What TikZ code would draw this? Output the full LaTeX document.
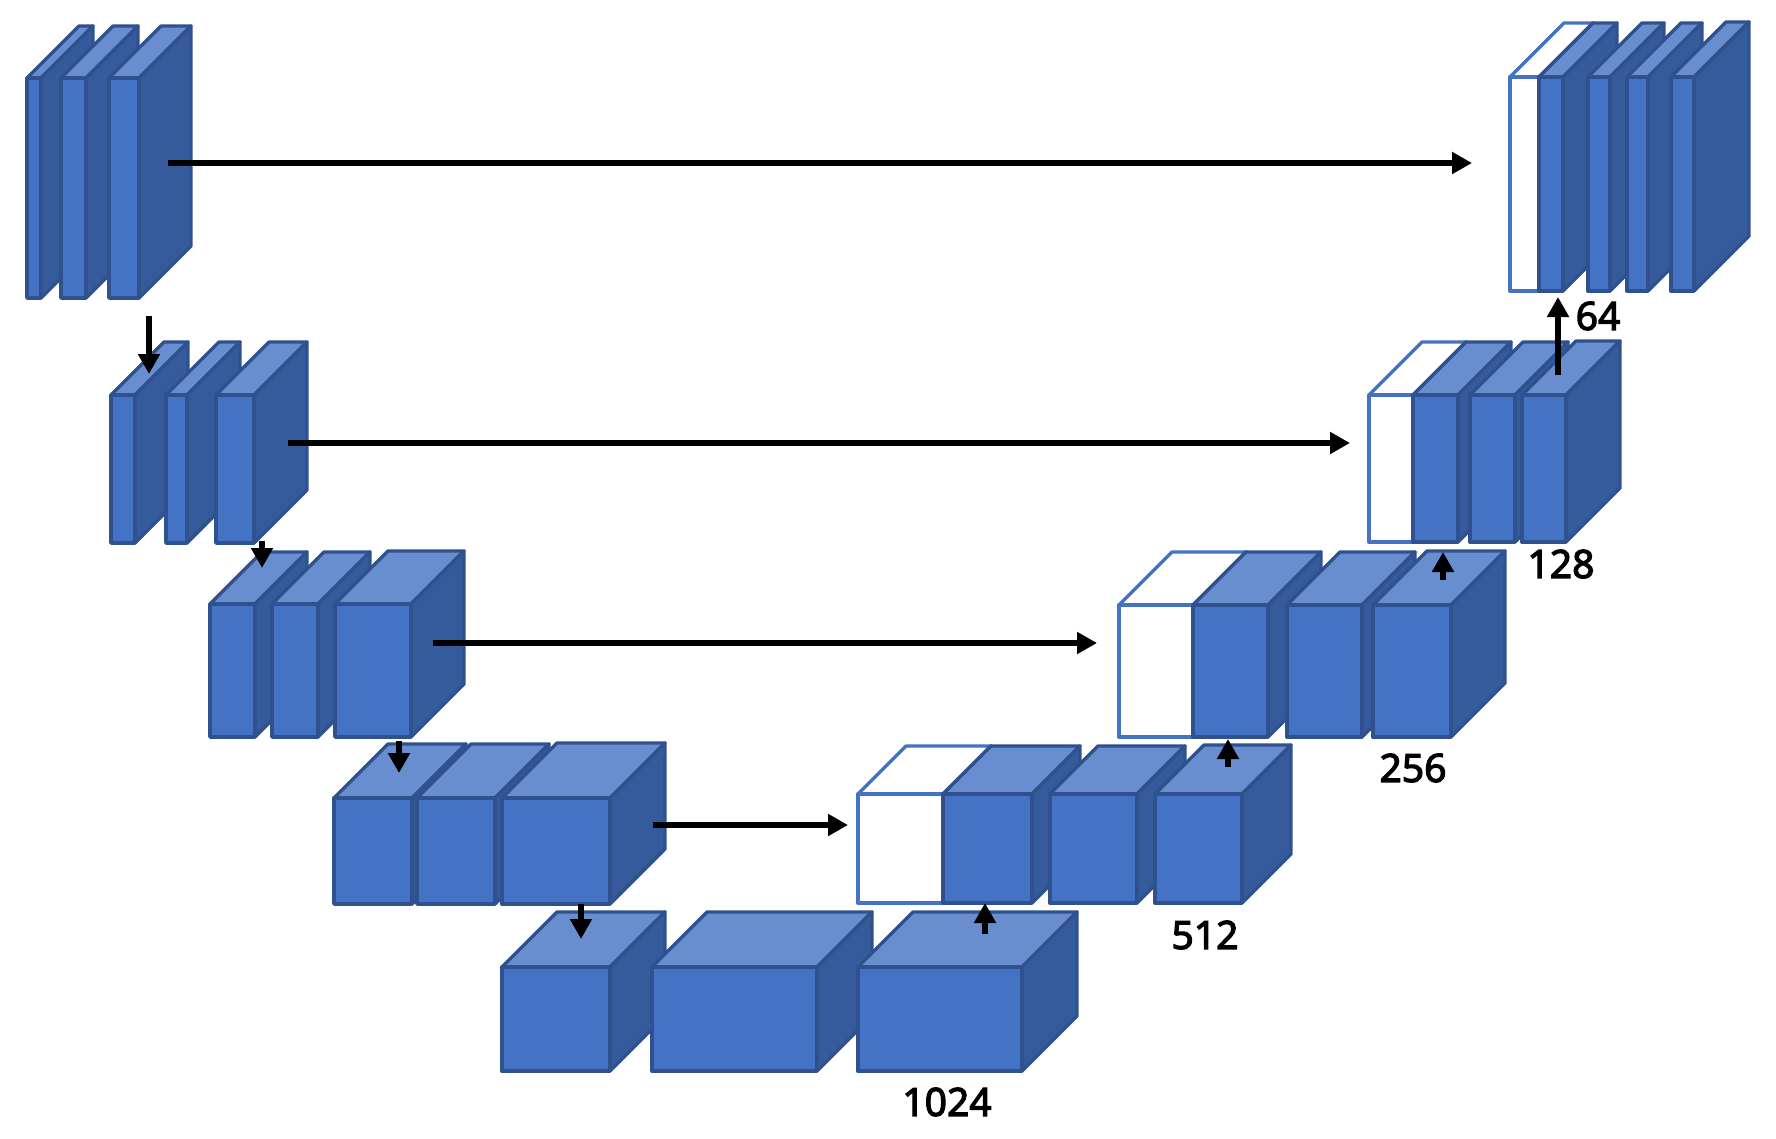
\documentclass[tikz,border=0pt]{standalone}
\usepackage{fontspec}
\setmainfont{Noto Sans}
\newfontfamily\lblfont{Noto Sans}[FakeBold=3]
\usetikzlibrary{arrows.meta}
\definecolor{frontc}{HTML}{4472C4}
\definecolor{topc}{HTML}{698ED0}
\definecolor{sidec}{HTML}{365B9D}
\definecolor{edgec}{HTML}{2F528F}
\definecolor{wedge}{HTML}{4472C4}
\tikzset{
  blk/.style={draw=edgec,line width=1.7pt,line join=round},
  wblk/.style={draw=wedge,fill=white,line width=1.7pt,line join=round},
  conn/.style={draw=black,line width=3pt,-{Triangle[length=10pt,width=10.5pt]}},
  lbl/.style={inner sep=0pt,font=\lblfont\fontsize{19.5}{23}\selectfont}
}
% blue slab: x0, x1, y0 (top of front), y1 (bottom), depth
\newcommand\bslab[5]{%
  \filldraw[blk,fill=topc] (#1,#3) -- ++(#5,-#5) -- ({#2+#5},{#3-#5}) -- (#2,#3) -- cycle;
  \filldraw[blk,fill=sidec] (#2,#3) -- ++(#5,-#5) -- ({#2+#5},{#4-#5}) -- (#2,#4) -- cycle;
  \filldraw[blk,fill=frontc] (#1,#3) rectangle (#2,#4);
}
% white (concatenated) slab
\newcommand\wslab[5]{%
  \filldraw[wblk] (#1,#3) -- ++(#5,-#5) -- ({#2+#5},{#3-#5}) -- (#2,#3) -- cycle;
  \filldraw[wblk] (#2,#3) -- ++(#5,-#5) -- ({#2+#5},{#4-#5}) -- (#2,#4) -- cycle;
  \filldraw[wblk] (#1,#3) rectangle (#2,#4);
}
\begin{document}
\begin{tikzpicture}[x=0.5pt,y=-0.5pt]
\useasboundingbox (0,0) rectangle (1776,1139);
% ---- encoder
% row 1 (64)
\bslab{27}{41}{78}{298}{52}
\bslab{61}{86}{78}{298}{52}
\bslab{109}{139}{78}{298}{52}
% row 2 (128)
\bslab{111}{135}{395}{543}{53}
\bslab{166}{187}{395}{543}{53}
\bslab{216}{254}{395}{543}{53}
% row 3 (256)
\bslab{210}{255}{604}{737}{52}
\bslab{272}{318}{604}{737}{52}
\bslab{335}{411}{604}{737}{53}
% row 4 (512)
\bslab{334}{412}{798}{904}{54}
\bslab{417}{495}{798}{904}{54}
\bslab{502}{610}{798}{904}{55}
% ---- bottleneck (1024)
\bslab{502}{610}{967}{1071}{55}
\bslab{652}{817}{967}{1071}{55}
\bslab{858}{1022}{967}{1071}{55}
% ---- decoder
% row 4 (512)
\wslab{858}{943}{794}{903}{48}
\bslab{943}{1032}{794}{903}{48}
\bslab{1050}{1137}{794}{903}{48}
\bslab{1155}{1242}{794}{903}{49}
% row 3 (256)
\wslab{1119}{1193}{605}{737}{53}
\bslab{1193}{1268}{605}{737}{53}
\bslab{1287}{1362}{605}{737}{53}
\bslab{1373}{1451}{605}{737}{54}
% row 2 (128)
\wslab{1369}{1413}{395}{542}{53}
\bslab{1413}{1458}{395}{542}{53}
\bslab{1470}{1515}{395}{542}{53}
\bslab{1522}{1566}{395}{542}{54}
% row 1 (64)
\wslab{1510}{1539}{77}{291}{54}
\bslab{1539}{1563}{77}{291}{54}
\bslab{1588}{1610}{77}{291}{54}
\bslab{1627}{1648}{77}{291}{54}
\bslab{1671}{1694}{77}{291}{55}
% ---- connector end points
\coordinate (s1) at (168,163);  \coordinate (t1) at (1472,163);
\coordinate (s2) at (288,443);  \coordinate (t2) at (1350,443);
\coordinate (s3) at (433,643);  \coordinate (t3) at (1097,643);
\coordinate (s4) at (653,825);  \coordinate (t4) at (848,825);
\coordinate (dA) at (149,316);  \coordinate (dB) at (149,374);
\coordinate (dB2) at (262,541); \coordinate (dC) at (262,568);
\coordinate (dC2) at (399,741); \coordinate (dD) at (399,773);
\coordinate (dD2) at (581,904); \coordinate (dE) at (581,939);
\coordinate (uE) at (985,934);  \coordinate (uF) at (985,903);
\coordinate (uF2) at (1228,767); \coordinate (uH) at (1228,739);
\coordinate (uH2) at (1443,580); \coordinate (uG) at (1443,552);
\coordinate (uG2) at (1558,375); \coordinate (uI) at (1558,297);
% skip connections
\draw[conn] (s1) -- (t1);
\draw[conn] (s2) -- (t2);
\draw[conn] (s3) -- (t3);
\draw[conn] (s4) -- (t4);
% down-sampling
\draw[conn] (dA) -- (dB);
\draw[conn] (dB2) -- (dC);
\draw[conn] (dC2) -- (dD);
\draw[conn] (dD2) -- (dE);
% up-sampling
\draw[conn] (uE) -- (uF);
\draw[conn] (uF2) -- (uH);
\draw[conn] (uH2) -- (uG);
\draw[conn] (uG2) -- (uI);
% labels
\node[lbl] (l64) at (1598,316) {64};
\node[lbl] (l128) at (1561,564) {128};
\node[lbl] (l256) at (1413,768) {256};
\node[lbl] (l512) at (1205,935) {512};
\node[lbl] (l1024) at (947,1102) {1024};
\end{tikzpicture}
\end{document}
